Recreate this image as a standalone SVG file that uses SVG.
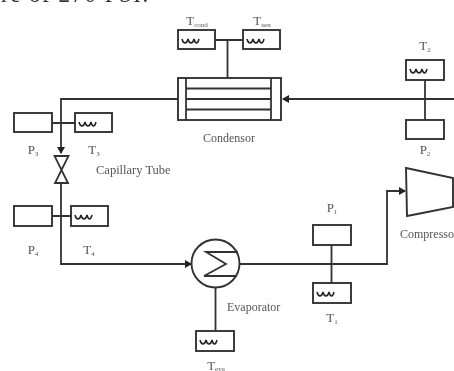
<svg xmlns="http://www.w3.org/2000/svg" width="454" height="371" viewBox="0 0 454 371">
<style>
.s{fill:none;stroke:#333;stroke-width:1.8}
.b{fill:#fff;stroke:#333;stroke-width:1.9}
.t{font-family:"Liberation Serif",serif;font-size:12px;fill:#555}
.c{font-size:12.500px}
.l{font-family:"Liberation Serif",serif;font-size:13px;fill:#555;text-anchor:middle}
.u{font-size:7px}
.w{fill:none;stroke:#222;stroke-width:1.500}
</style>
<defs>
<marker id="a" markerUnits="userSpaceOnUse" markerWidth="8" markerHeight="8" refX="6" refY="4" orient="auto"><path d="M0 0L7 4L0 8Z" fill="#222"/></marker>
<path id="wv" class="w" d="M0 0q1 4 3 4t3-4q1 4 3 4t3-4q1 4 2.500 4t2.500-4"/>
<filter id="f" x="0" y="0" width="1" height="1"><feGaussianBlur stdDeviation="0.55"/></filter>
</defs>
<rect width="454" height="371" fill="#fff"/>
<g filter="url(#f)">
<text x="1" y="2" font-family="Liberation Serif,serif" font-size="23" fill="#333" letter-spacing="1.500">re of 270 PSI.</text>
<g id="connectors" class="s">
<path d="M454 99H283" marker-end="url(#a)"/>
<path d="M178 99H61V153" marker-end="url(#a)"/>
<path d="M61 184V264H191" marker-end="url(#a)"/>
<path d="M239 264H387V191H405" marker-end="url(#a)"/>
<path d="M215 40H243M227.500 40V78M52 123H75M52 216H71M425 80V120M331.500 245V283M215.500 287V331"/>
</g>
<g id="condensor"><rect class="b" x="178" y="78" width="103" height="42"/><path class="s" d="M186 78V120M271 78V120M186 88.500H271M186 99H271M186 109.500H271"/><text class="t" x="203" y="142">Condensor</text></g>
<g id="tcond"><rect class="b" x="178" y="30" width="37" height="19"/><use href="#wv" x="182" y="39"/><text class="l" x="197" y="25">T<tspan class="u" dy="2">cond</tspan></text></g>
<g id="tsen"><rect class="b" x="243" y="30" width="37" height="19"/><use href="#wv" x="247" y="39"/><text class="l" x="262" y="25">T<tspan class="u" dy="2">sen</tspan></text></g>
<g id="t2"><rect class="b" x="406" y="60" width="38" height="20"/><use href="#wv" x="410" y="69"/><text class="l" x="425" y="50">T<tspan class="u" dy="2">2</tspan></text></g>
<g id="p2"><rect class="b" x="406" y="120" width="38" height="19"/><text class="l" x="425" y="154">P<tspan class="u" dy="2">2</tspan></text></g>
<g id="p3"><rect class="b" x="14" y="113" width="38" height="19"/><text class="l" x="33" y="154">P<tspan class="u" dy="2">3</tspan></text></g>
<g id="t3"><rect class="b" x="75" y="113" width="37" height="19"/><use href="#wv" x="79" y="122"/><text class="l" x="94" y="154">T<tspan class="u" dy="2">3</tspan></text></g>
<g id="valve"><path class="s" d="M54.500 156H68.500L55 183H68Z"/><text class="t c" x="96" y="174">Capillary Tube</text></g>
<g id="p4"><rect class="b" x="14" y="206" width="38" height="20"/><text class="l" x="33" y="254">P<tspan class="u" dy="2">4</tspan></text></g>
<g id="t4"><rect class="b" x="71" y="206" width="37" height="20"/><use href="#wv" x="75" y="215"/><text class="l" x="89" y="254">T<tspan class="u" dy="2">4</tspan></text></g>
<g id="evaporator"><circle class="b" cx="215.500" cy="263.500" r="24"/><path class="s" d="M238 252H206L226 264L204 276H237"/><text class="t" x="227" y="311">Evaporator</text></g>
<g id="teva"><rect class="b" x="196" y="331" width="38" height="20"/><use href="#wv" x="200" y="340"/><text class="l" x="216" y="370">T<tspan class="u" dy="1">eva</tspan></text></g>
<g id="p1"><rect class="b" x="313" y="225" width="38" height="20"/><text class="l" x="332" y="212">P<tspan class="u" dy="2">1</tspan></text></g>
<g id="t1"><rect class="b" x="313" y="283" width="38" height="20"/><use href="#wv" x="317" y="292"/><text class="l" x="332" y="322">T<tspan class="u" dy="2">1</tspan></text></g>
<g id="compressor"><path class="b" d="M406 168L453 178V207L407 216Z"/><text class="t" x="400" y="238">Compressor</text></g>
</g>
</svg>
